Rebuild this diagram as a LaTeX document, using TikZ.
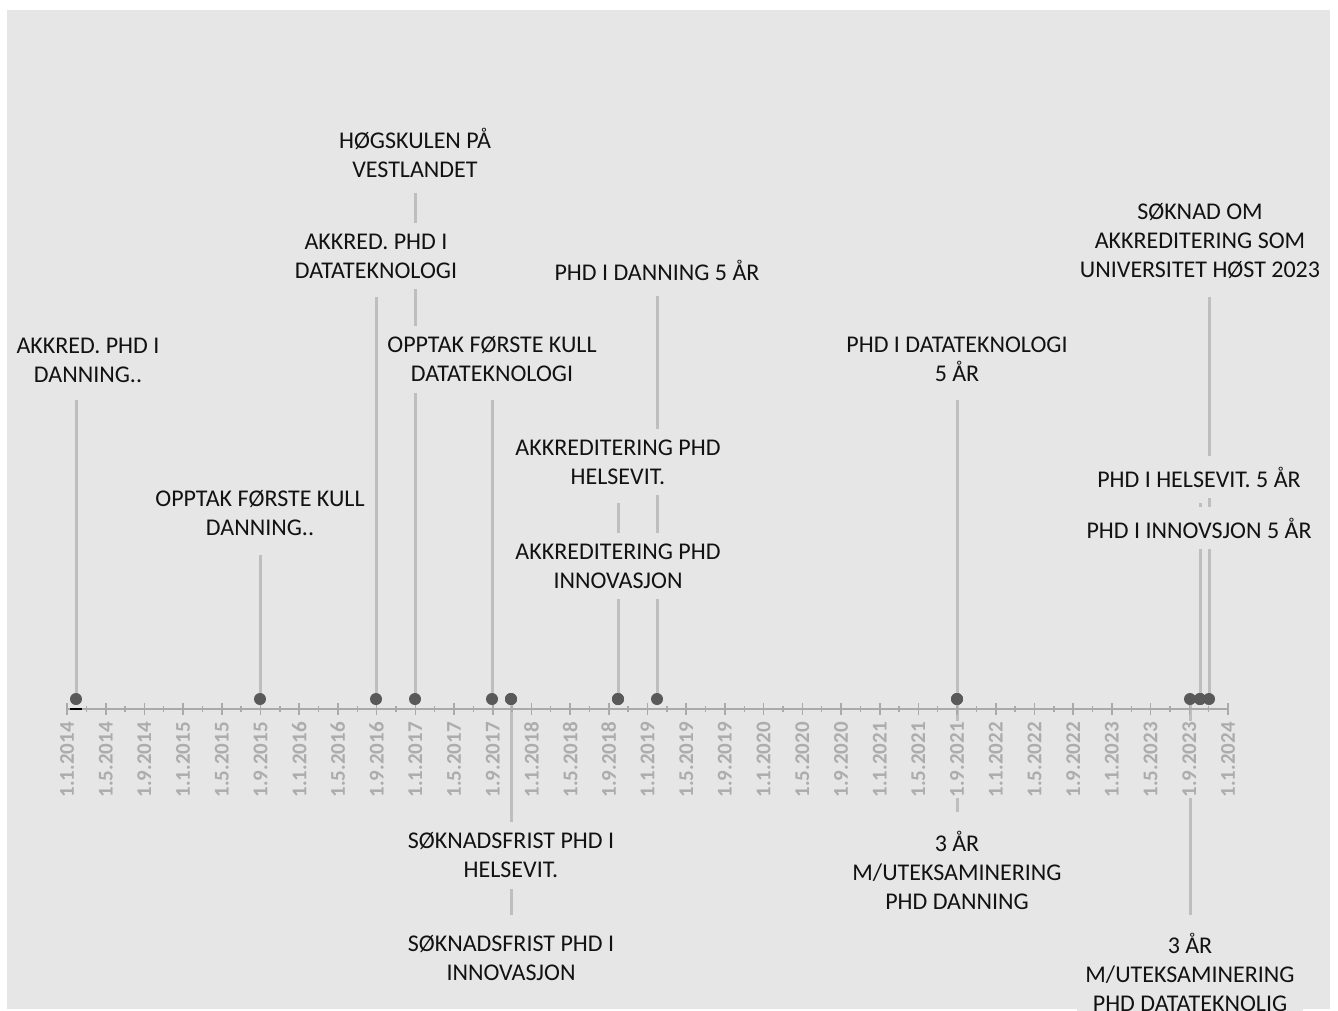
\documentclass[tikz,border=0pt]{standalone}
\usepackage{fontspec}
\setmainfont{Carlito}
\pgfdeclarelayer{back}
\pgfdeclarelayer{lines}
\pgfsetlayers{back,lines,main}
\definecolor{panelc}{RGB}{230,230,230}
\definecolor{linec}{RGB}{190,190,190}
\definecolor{axisc}{RGB}{170,170,170}
\definecolor{tickc}{RGB}{172,172,172}
\definecolor{dotc}{RGB}{89,89,89}
\definecolor{txtc}{RGB}{18,18,18}
\tikzset{
  evlabel/.style={fill=panelc, text=txtc, align=center, font=\fontsize{24}{29}\selectfont, inner xsep=8pt, inner ysep=11pt},
  ticklabel/.style={fill=panelc, text=tickc, font=\fontsize{21}{25}\selectfont\bfseries, rotate=90, anchor=east, inner sep=1pt},
  evdot/.style={circle, fill=dotc, minimum size=12pt, inner sep=0pt},
  stem/.style={draw=linec, line width=3pt},
  axisline/.style={draw=axisc, line width=2pt},
  majortick/.style={draw=axisc, line width=1.6pt},
  minortick/.style={draw=axisc, line width=1.4pt},
}
\begin{document}
\begin{tikzpicture}[x=1pt,y=-1pt]
\useasboundingbox (0,0) rectangle (1338,1010);
\begin{pgfonlayer}{back}
  \fill[panelc] (7,10) rectangle (1330,1009);
\end{pgfonlayer}

% axis
\draw[axisline] (67,709) -- (1228,709);
\foreach \i in {0,...,29}
  \draw[minortick] ({67+19.35+\i*38.7},706) -- ({67+19.35+\i*38.7},712);
\foreach \lab [count=\i from 0] in {1.1.2014,1.5.2014,1.9.2014,1.1.2015,1.5.2015,1.9.2015,1.1.2016,1.5.2016,1.9.2016,1.1.2017,1.5.2017,1.9.2017,1.1.2018,1.5.2018,1.9.2018,1.1.2019,1.5.2019,1.9.2019,1.1.2020,1.5.2020,1.9.2020,1.1.2021,1.5.2021,1.9.2021,1.1.2022,1.5.2022,1.9.2022,1.1.2023,1.5.2023,1.9.2023,1.1.2024} {
  \draw[majortick] ({67+\i*38.7},703) -- ({67+\i*38.7},715);
  \node[ticklabel] (tl\i) at ({67+\i*38.7},721) {\lab};
}
\draw[black, line width=2pt] (70,709) -- (82,709);

% events
\node[evdot] (d1) at (76,699) {};
\coordinate (t1) at (76,400);
\node[evlabel] (l1) at (88,360) {AKKRED. PHD I\\DANNING..};

\node[evdot] (d2) at (260,699) {};
\coordinate (t2) at (260,555);
\node[evlabel] (l2) at (260,513) {OPPTAK FØRSTE KULL\\DANNING..};

\node[evdot] (d3) at (376,699) {};
\coordinate (t3) at (376,297);
\node[evlabel] (l3) at (376,256) {AKKRED. PHD I\\DATATEKNOLOGI};

\node[evdot] (d4) at (415,699) {};
\coordinate (t4) at (415,193);
\node[evlabel] (l4) at (415,152.5) {HØGSKULEN PÅ\\VESTLANDET};

\node[evdot] (d5) at (492,699) {};
\coordinate (t5) at (492,400);
\node[evlabel] (l5) at (492,359.5) {OPPTAK FØRSTE KULL\\DATATEKNOLOGI};

\node[evdot] (d6) at (511,699) {};
\coordinate (t6) at (511,820);
\node[evlabel] (l6) at (511,855.5) {SØKNADSFRIST PHD I\\HELSEVIT.};

\node[evdot] (d7) at (511,699) {};
\coordinate (t7) at (511,915);
\node[evlabel] (l7) at (511,958.5) {SØKNADSFRIST PHD I\\INNOVASJON};

\node[evdot] (d8) at (618,699) {};
\coordinate (t8) at (618,503);
\node[evlabel] (l8) at (618,462) {AKKREDITERING PHD\\HELSEVIT.};

\node[evdot] (d9) at (618,699) {};
\coordinate (t9) at (618,600);
\node[evlabel] (l9) at (618,566) {AKKREDITERING PHD\\INNOVASJON};

\node[evdot] (d10) at (657,699) {};
\coordinate (t10) at (657,296);
\node[evlabel] (l10) at (657,270) {PHD I DANNING 5 ÅR};

\node[evdot] (d11) at (957,699) {};
\coordinate (t11) at (957,400);
\node[evlabel] (l11) at (957,359.5) {PHD I DATATEKNOLOGI\\5 ÅR};

\node[evdot] (d12) at (957,699) {};
\coordinate (t12) at (957,812);
\node[evlabel] (l12) at (957,870) {3 ÅR\\M/UTEKSAMINERING\\PHD DANNING};

\node[evdot] (d16) at (1190,699) {};
\coordinate (t16) at (1190,915);
\node[evlabel] (l16) at (1190,972) {3 ÅR\\M/UTEKSAMINERING\\PHD DATATEKNOLIG};

\node[evdot] (d14) at (1200,699) {};
\coordinate (t14) at (1200,503);
\node[evlabel] (l14) at (1199,477) {PHD I HELSEVIT. 5 ÅR};

\node[evdot] (d15) at (1200,699) {};
\coordinate (t15) at (1200,547);
\node[evlabel] (l15) at (1199,528) {PHD I INNOVSJON 5 ÅR};

\node[evdot] (d13) at (1209,699) {};
\coordinate (t13) at (1209,297);
\node[evlabel] (l13) at (1200,241) {SØKNAD OM\\AKKREDITERING SOM\\UNIVERSITET HØST 2023};

\begin{pgfonlayer}{lines}
  \foreach \k in {1,...,16}
    \draw[stem] (d\k.center) -- (t\k);
\end{pgfonlayer}
\end{tikzpicture}
\end{document}
